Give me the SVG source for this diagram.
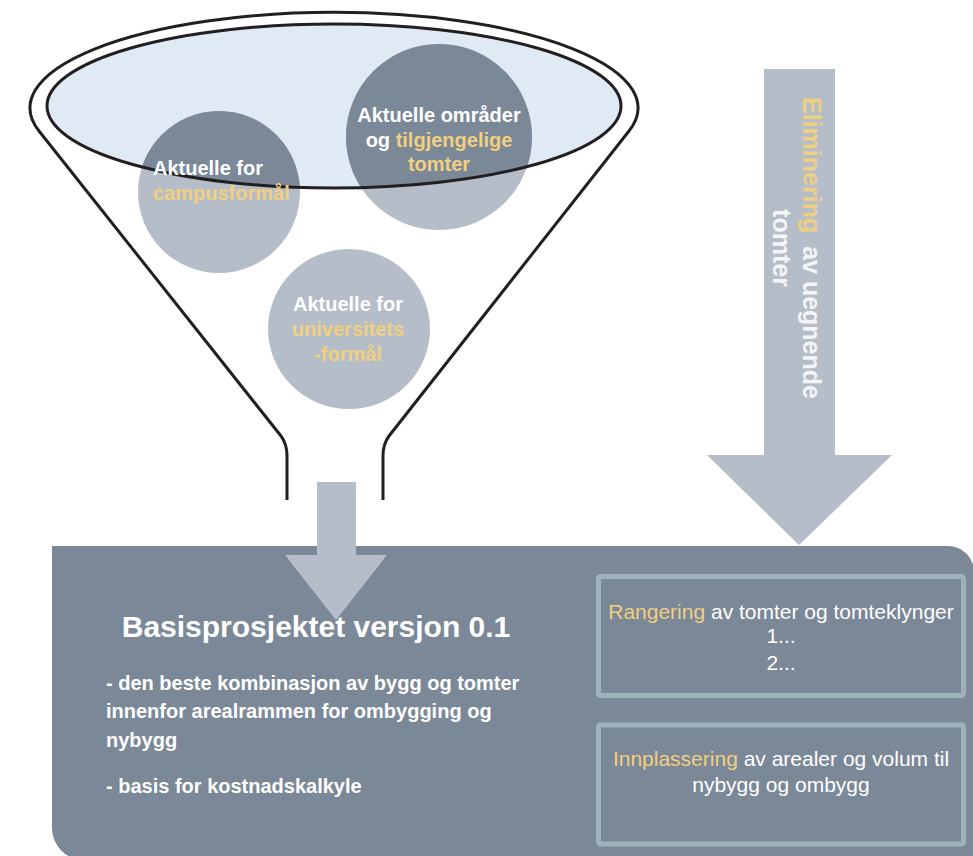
<svg xmlns="http://www.w3.org/2000/svg" width="973" height="856" viewBox="0 0 973 856">
<defs>
<style>
.b{font-family:"Liberation Sans",Arial,sans-serif;font-weight:bold;}
.r{font-family:"Liberation Sans",Arial,sans-serif;font-weight:normal;}
.w{fill:#ffffff;}
.y{fill:#f1cf80;}
.dark{fill:#7b8898;}
.light{fill:#b4bdc8;}
.frame{fill:none;stroke:#9fb1bb;stroke-width:5;}
.line{fill:none;stroke:#231f20;stroke-width:3;}
</style>
<clipPath id="rimClip"><ellipse cx="334" cy="106" rx="287" ry="82"/></clipPath>
</defs>
<rect width="973" height="856" fill="#ffffff"/>

<g id="funnel">
<path class="line" d="M 287 500 L 287 456 Q 287 444 281 436 L 39 131 A 304 95.6 0 1 1 629 131 L 389 436 Q 383 444 383 456 L 383 500"/>
<ellipse cx="334" cy="106" rx="287" ry="82" fill="#dfeaf4"/>
</g>

<g id="node-campus">
<circle cx="219" cy="192" r="81" class="light"/>
<circle cx="219" cy="192" r="81" class="dark" clip-path="url(#rimClip)"/>
</g>
<g id="node-omrader">
<circle cx="439" cy="137" r="93" class="light"/>
<circle cx="439" cy="137" r="93" class="dark" clip-path="url(#rimClip)"/>
</g>
<g id="node-universitet">
<ellipse cx="349" cy="329" rx="81" ry="80" class="light"/>
</g>

<ellipse id="rim" cx="334" cy="106" rx="287" ry="82" class="line"/>

<g id="labels-funnel" font-size="20">
<text class="b w" x="153" y="175">Aktuelle for</text>
<text class="b y" x="153" y="200">campusformål</text>
<text class="b w" x="439" y="122" text-anchor="middle">Aktuelle områder</text>
<text class="b w" x="439" y="147" text-anchor="middle">og <tspan class="y">tilgjengelige</tspan></text>
<text class="b y" x="439" y="171" text-anchor="middle">tomter</text>
<text class="b w" x="348" y="311" text-anchor="middle">Aktuelle for</text>
<text class="b y" x="348" y="336" text-anchor="middle">universitets</text>
<text class="b y" x="348" y="361" text-anchor="middle">-formål</text>
</g>

<g id="node-basis">
<path class="dark" d="M 52 546 H 948 A 26 26 0 0 1 974 572 V 860 H 84 A 32 32 0 0 1 52 828 Z"/>
<text class="b w" x="316" y="637" font-size="30" text-anchor="middle">Basisprosjektet versjon 0.1</text>
<g class="b w" font-size="20">
<text x="106" y="690">- den beste kombinasjon av bygg og tomter</text>
<text x="106" y="718">innenfor arealrammen for ombygging og</text>
<text x="106" y="747">nybygg</text>
<text x="106" y="793">- basis for kostnadskalkyle</text>
</g>
</g>

<g id="node-rangering">
<rect class="frame" x="598.5" y="576.5" width="365" height="119" rx="2"/>
<g class="r w" font-size="21" text-anchor="middle">
<text x="781" y="619"><tspan class="y">Rangering</tspan> av tomter og tomteklynger</text>
<text x="781" y="643">1...</text>
<text x="781" y="670">2...</text>
</g>
</g>

<g id="node-innplassering">
<rect class="frame" x="598.5" y="725" width="365" height="119" rx="2"/>
<g class="r w" font-size="21" text-anchor="middle">
<text x="781" y="766"><tspan class="y">Innplassering</tspan> av arealer og volum til</text>
<text x="781" y="792">nybygg og ombygg</text>
</g>
</g>

<g id="connectors">
<path class="light" d="M 317 482 H 356 V 555 H 387 L 336 620 L 285 555 H 317 Z"/>
<path class="light" d="M 764 69 H 835 V 455 H 892 L 799 545 L 707 455 H 764 Z"/>
<g transform="translate(803 248) rotate(90)" class="b" font-size="25" text-anchor="middle">
<text x="0" y="0"><tspan class="y">Eliminering</tspan><tspan fill="#f4f5f7" dx="6"> av uegnende</tspan></text>
<text x="0" y="30" fill="#f4f5f7">tomter</text>
</g>
</g>
</svg>
